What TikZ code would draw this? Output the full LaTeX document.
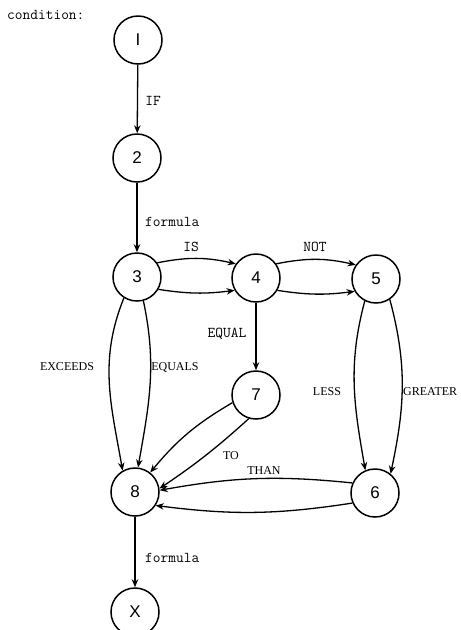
\documentclass[tikz,border=0pt]{standalone}
\usepackage{fontspec}
\newfontfamily\nodefont{Liberation Sans}
\newfontfamily\labserif{Liberation Serif}
\usetikzlibrary{arrows.meta}
\begin{document}
\begin{tikzpicture}[x=1pt,y=-1pt,
  state/.style={circle,draw,line width=1.5pt,minimum size=48pt,inner sep=0pt,font=\nodefont\fontsize{17}{17}\selectfont},
  edge/.style={line width=1.3pt,-{Stealth[length=8pt,width=6.5pt]}},
  tlab/.style={font=\ttfamily\fontsize{15}{16}\selectfont,inner sep=0pt},
  slab/.style={font=\labserif\fontsize{12}{13}\selectfont,inner sep=0pt}]
\useasboundingbox (0,0) rectangle (461,630);
% states
\node[state] (n1) at (138,40) {I};
\node[state] (n2) at (137,158) {2};
\node[state] (n3) at (137,277) {3};
\node[state] (n4) at (256,278) {4};
\node[state] (n5) at (376,279) {5};
\node[state] (n7) at (256,395) {7};
\node[state] (n8) at (135,492) {8};
\node[state] (n6) at (375,493) {6};
\node[state] (nX) at (135,612) {X};
% edges
\draw[edge] (n1) -- (n2);
\draw[edge] (n2) -- (n3);
\draw[edge] (n3.35) to[bend left=12] (n4.145);
\draw[edge] (n3.-30) to[bend right=8] (n4.-150);
\draw[edge] (n4.35) to[bend left=12] (n5.145);
\draw[edge] (n4.-30) to[bend right=8] (n5.-150);
\draw[edge] (n4) -- (n7);
\draw[edge] (n3.-122) to[out=-112,in=100] (n8.120);
\draw[edge] (n3.-75) to[out=-78,in=80] (n8.83);
\draw[edge] (n7.-162) to[bend right=10] (n8.52);
\draw[edge] (n7.-107) to[bend left=4] (n8.8);
\draw[edge] (n6.156) to[bend right=8] (n8.4);
\draw[edge] (n6.-156) to[bend left=8] (n8.-33);
\draw[edge] (n5.-117) to[out=-105,in=100] (n6.113);
\draw[edge] (n5.-56) to[out=-75,in=78] (n6.51);
\draw[edge] (n8) -- (nX);
% labels
\node[tlab,anchor=west] (lcond) at (7,15) {condition:};
\node[tlab] (lif) at (153,101) {IF};
\node[tlab,anchor=west] (lf1) at (145,222) {formula};
\node[tlab] (lis) at (191,247) {IS};
\node[tlab] (lnot) at (315,247) {NOT};
\node[tlab] (lequal) at (227,334) {EQUAL};
\node[slab] (lexc) at (67,367) {EXCEEDS};
\node[slab] (leqs) at (175,367) {EQUALS};
\node[slab] (lless) at (327,392) {LESS};
\node[slab,anchor=west] (lgr) at (403,392) {GREATER};
\node[slab] (lto) at (231,456) {TO};
\node[slab] (lthan) at (264,471) {THAN};
\node[tlab,anchor=west] (lf2) at (145,558) {formula};
\end{tikzpicture}
\end{document}
